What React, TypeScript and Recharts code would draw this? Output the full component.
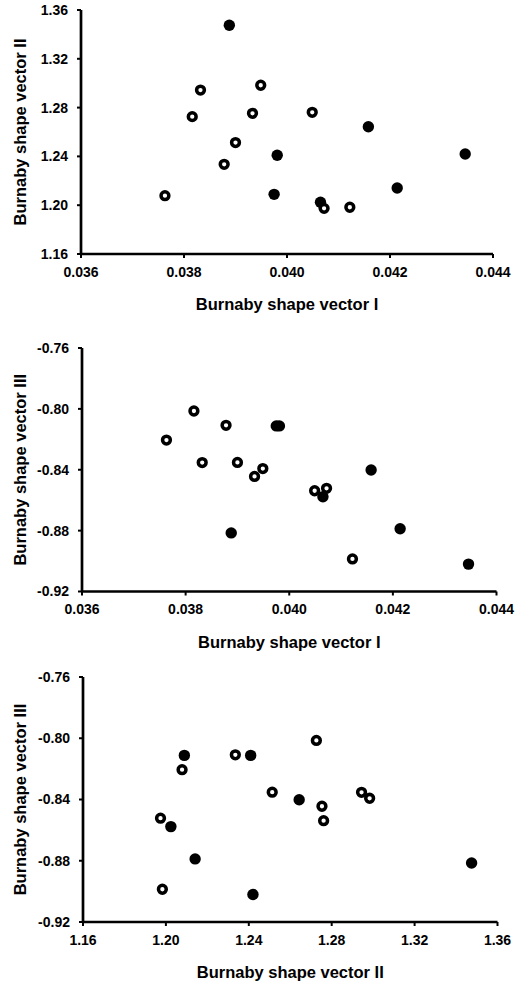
import React from 'react';
import { ScatterChart, Scatter, XAxis, YAxis } from 'recharts';

// Burnaby shape vectors, one entry per specimen
// filled markers
const filledI = [0.03888, 0.04158, 0.03981, 0.04346, 0.03975, 0.04214, 0.04065];
const filledII = [1.3475, 1.2643, 1.2409, 1.242, 1.2089, 1.2141, 1.2024];
const filledIII = [-0.8815, -0.8402, -0.8112, -0.902, -0.8112, -0.8788, -0.8577];

// open markers
const openI = [0.03763, 0.03816, 0.03832, 0.03878, 0.039, 0.03933, 0.03949, 0.04049, 0.04072, 0.04122];
const openII = [1.2078, 1.2726, 1.2944, 1.2335, 1.2513, 1.2753, 1.2983, 1.2761, 1.1974, 1.1983];
const openIII = [-0.8205, -0.8014, -0.8353, -0.8108, -0.8352, -0.8444, -0.8392, -0.8538, -0.8522, -0.8986];

const ticksI = [0.036, 0.038, 0.04, 0.042, 0.044];
const ticksII = [1.16, 1.2, 1.24, 1.28, 1.32, 1.36];
const ticksIII = [-0.92, -0.88, -0.84, -0.8, -0.76];

const titleI = 'Burnaby shape vector I';
const titleII = 'Burnaby shape vector II';
const titleIII = 'Burnaby shape vector III';

const FONT = "'Liberation Sans', Arial, Helvetica, sans-serif";

const filled = filledI.map((v, i) => ({ I: v, II: filledII[i], III: filledIII[i] }));
const open = openI.map((v, i) => ({ I: v, II: openII[i], III: openIII[i] }));

const FilledDot = (props: any) => <circle cx={props.cx} cy={props.cy} r={5.7} fill="#000" />;
const OpenDot = (props: any) => (
  <circle cx={props.cx} cy={props.cy} r={3.9} fill="#fff" stroke="#000" strokeWidth={3.5} />
);

const XTitle = ({ viewBox, value }: any) => {
  const cx = viewBox.x + viewBox.width / 2;
  return (
    <text x={cx} y={viewBox.y + 56} textAnchor="middle" fill="#000"
      style={{ fontFamily: FONT, fontWeight: 'bold', fontSize: 16.5 }}>
      {value}
    </text>
  );
};

const YTitle = ({ viewBox, value }: any) => {
  const cx = 19.5;
  const cy = viewBox.y + viewBox.height / 2;
  return (
    <text x={cx} y={cy} transform={`rotate(-90, ${cx}, ${cy})`} textAnchor="middle"
      dominantBaseline="central" fill="#000"
      style={{ fontFamily: FONT, fontWeight: 'bold', fontSize: 16.5 }}>
      {value}
    </text>
  );
};

const tickStyle = { fill: '#000', fontSize: 14, fontWeight: 'bold', fontFamily: FONT };
const lineStyle = { stroke: '#000', strokeWidth: 2.7 };
const tickLineStyle = { stroke: '#000', strokeWidth: 2 };

interface PanelProps {
  top: number;
  plotH: number;
  left: number;
  right: number;
  xKey: string;
  yKey: string;
  xTicks: number[];
  yTicks: number[];
  xDigits: number;
  xTitle: string;
  yTitle: string;
}

const Panel: React.FC<PanelProps> = ({ top, plotH, left, right, xKey, yKey, xTicks, yTicks, xDigits, xTitle, yTitle }) => (
  <div style={{ position: 'absolute', left: 0, top }}>
    <ScatterChart width={531} height={10 + plotH + 64} margin={{ top: 10, right: 531 - right, bottom: 0, left: 0 }}>
      <XAxis
        type="number"
        dataKey={xKey}
        domain={[xTicks[0], xTicks[xTicks.length - 1]]}
        ticks={xTicks}
        interval={0}
        tickFormatter={(v: number) => v.toFixed(xDigits)}
        tick={tickStyle}
        tickSize={4}
        tickMargin={9}
        axisLine={lineStyle}
        tickLine={tickLineStyle}
        height={64}
        label={<XTitle value={xTitle} />}
      />
      <YAxis
        type="number"
        dataKey={yKey}
        domain={[yTicks[0], yTicks[yTicks.length - 1]]}
        ticks={yTicks}
        interval={0}
        tickFormatter={(v: number) => v.toFixed(2)}
        tick={tickStyle}
        tickSize={4}
        tickMargin={9}
        axisLine={lineStyle}
        tickLine={tickLineStyle}
        width={left}
        label={<YTitle value={yTitle} />}
      />
      <Scatter data={filled} shape={FilledDot} isAnimationActive={false} />
      <Scatter data={open} shape={OpenDot} isAnimationActive={false} />
    </ScatterChart>
  </div>
);

export default function App() {
  return (
    <div style={{ position: 'absolute', left: 0, top: 0, width: 531, height: 986, overflow: 'hidden', background: '#fff' }}>
      <Panel top={0} plotH={244} left={81} right={493} xKey="I" yKey="II"
        xTicks={ticksI} yTicks={ticksII} xDigits={3} xTitle={titleI} yTitle={titleII} />
      <Panel top={338} plotH={243.5} left={82} right={496.5} xKey="I" yKey="III"
        xTicks={ticksI} yTicks={ticksIII} xDigits={3} xTitle={titleI} yTitle={titleIII} />
      <Panel top={667} plotH={245} left={83} right={497.5} xKey="II" yKey="III"
        xTicks={ticksII} yTicks={ticksIII} xDigits={2} xTitle={titleII} yTitle={titleIII} />
    </div>
  );
}
